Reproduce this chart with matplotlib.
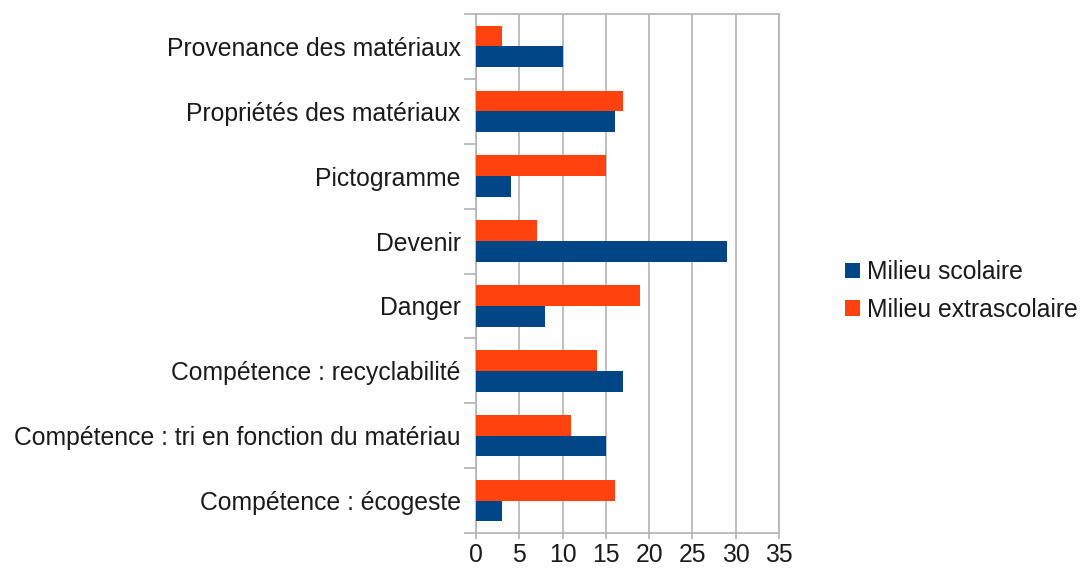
import matplotlib
matplotlib.use("Agg")
import matplotlib.pyplot as plt
import numpy as np

categories = ["Provenance des matériaux", "Propriétés des matériaux", "Pictogramme",
              "Devenir", "Danger", "Compétence : recyclabilité",
              "Compétence : tri en fonction du matériau", "Compétence : écogeste"]
scolaire = [10, 16, 4, 29, 8, 17, 15, 3]
extrascolaire = [3, 17, 15, 7, 19, 14, 11, 16]
xticks = [0, 5, 10, 15, 20, 25, 30, 35]

plt.rcParams['font.family'] = ['Liberation Sans', 'DejaVu Sans']
BLUE = "#004586"
ORANGE = "#ff420e"
GRID = "#b3b3b3"
TXT = "#1a1a1a"
FS = 17.8

fig = plt.figure(figsize=(10.84, 5.78), dpi=100)
ax = fig.add_axes([476/1084, 1-533/578, (779-476)/1084, (533-14)/578])

y = np.arange(len(categories))
h = 0.32
ax.barh(y + h/2, scolaire, height=h, color=BLUE, label="Milieu scolaire", zorder=3)
ax.barh(y - h/2, extrascolaire, height=h, color=ORANGE, label="Milieu extrascolaire", zorder=3)

ax.set_ylim(len(categories) - 0.5, -0.5)
ax.set_xlim(0, 35)
ax.set_xticks(xticks)
ax.set_xticklabels([str(v) for v in xticks])
ax.set_yticks(y)
ax.set_yticklabels(categories)
ax.set_yticks(np.arange(-0.5, len(categories)), minor=True)
ax.tick_params(axis='y', which='major', length=0, pad=11, labelsize=FS, labelcolor=TXT)
ax.tick_params(axis='y', which='minor', length=9, color=GRID, width=1.2)
ax.tick_params(axis='x', which='major', length=4, color=GRID, width=1.2, labelsize=FS, labelcolor=TXT, pad=3)

ax.grid(axis='x', color=GRID, linewidth=1.2, zorder=0)
ax.set_axisbelow(True)
for s in ax.spines.values():
    s.set_color(GRID)
    s.set_linewidth(1.2)

handles, labels = ax.get_legend_handles_labels()
fig.legend(handles, labels, loc='center left', bbox_to_anchor=(835/1084, 1-291/578),
           frameon=False, fontsize=17.8, handlelength=0.6, handleheight=0.6,
           handletextpad=0.3, labelspacing=0.55, labelcolor=TXT, borderaxespad=0)

fig.savefig("out.png", dpi=100, facecolor="white")
